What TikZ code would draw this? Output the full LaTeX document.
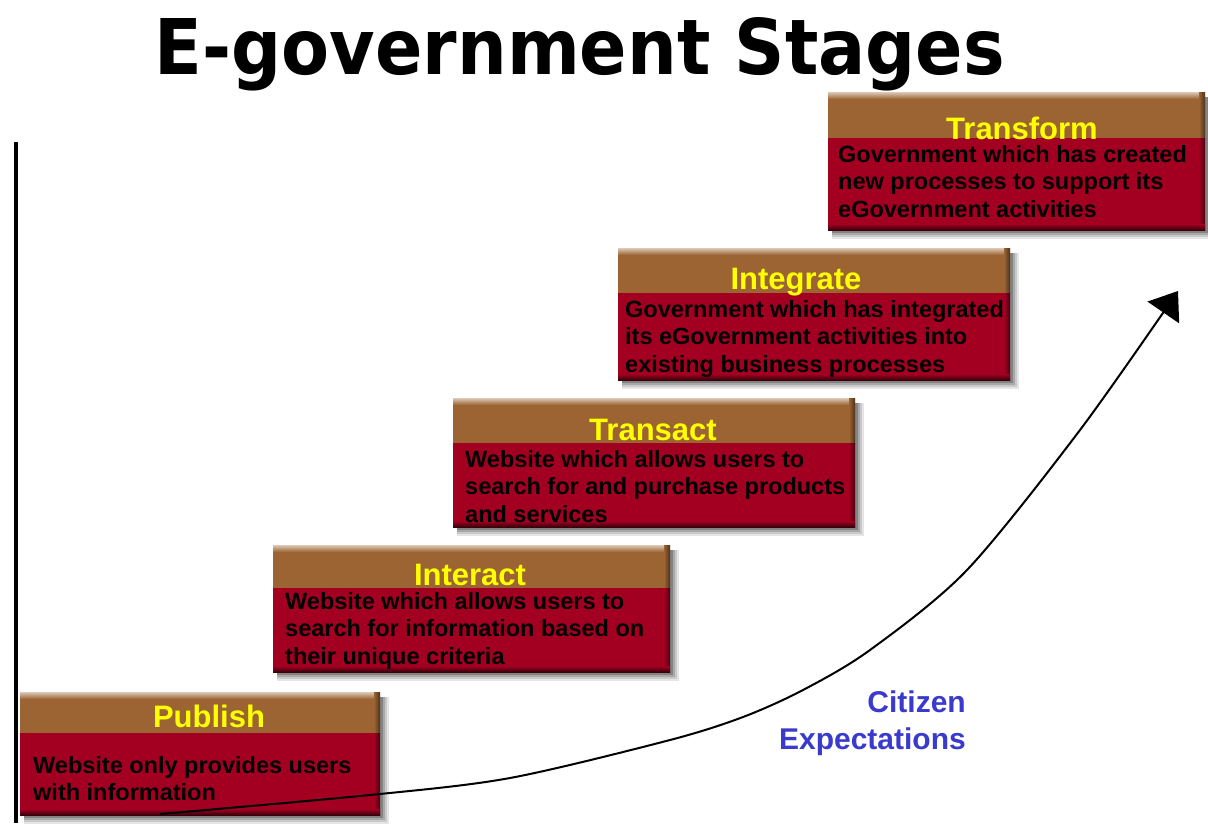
\documentclass[tikz,border=0pt]{standalone}
\usepackage{graphicx}
\usepackage{fontspec}
\setmainfont{Liberation Sans}
\newfontfamily\titlefont{DejaVu Sans}
\usetikzlibrary{arrows.meta}

\definecolor{headbrown}{RGB}{155,100,50}
\definecolor{bodyred}{RGB}{163,0,33}
\definecolor{headyellow}{RGB}{255,255,0}
\definecolor{citeblue}{RGB}{58,58,204}

\tikzset{
  stagebody/.style={fill=bodyred, inner sep=0pt, outer sep=0pt},
  headtxt/.style={font=\bfseries\fontsize{31}{31}\selectfont, text=headyellow,
    inner sep=0pt, anchor=base},
  bodytxt/.style={font=\bfseries\fontsize{23.5}{27.5}\selectfont, text=black,
    inner sep=0pt, align=left, anchor=north west},
  citetxt/.style={font=\bfseries\fontsize{30}{37}\selectfont, text=citeblue,
    inner sep=0pt, align=right, anchor=north east},
  rise/.style={line width=2pt, -{Triangle[length=26pt, width=38pt]}},
  axisline/.style={line width=4pt},
}

% #1 name, #2/#3 top-left corner, #4/#5 bottom-right corner, #6 header height
\newcommand\stagebox[6]{%
  % soft drop shadow
  \foreach \sk/\so in {9/0.10,7/0.12,5/0.16,3/0.22}{
    \fill[black, opacity=\so] ({#2+4},{#3+5}) rectangle ({#4+\sk},{#5+\sk});
  }
  \node[stagebody, minimum width={(#4-#2)*1pt}, minimum height={(#5-#3)*1pt}]
    (#1) at ({(#2+#4)/2},{(#3+#5)/2}) {};
  % brown title band
  \fill[headbrown] (#1.north west) rectangle ([yshift={-#6pt}]#1.north east);
  \shade[top color=headbrown!35!white, bottom color=headbrown]
    (#1.north west) rectangle ([yshift=-7pt]#1.north east);
  % darker bevel on the right and bottom edges
  \shade[left color=headbrown, right color=headbrown!50!black]
    ([xshift=-6pt]#1.north east) rectangle ([yshift={-#6pt}]#1.north east);
  \shade[left color=bodyred, right color=bodyred!45!black]
    ([xshift=-6pt, yshift={-#6pt}]#1.north east) rectangle (#1.south east);
  \shade[top color=bodyred, bottom color=bodyred!35!black]
    ([yshift=6pt]#1.south west) rectangle (#1.south east);
}

\begin{document}
\begin{tikzpicture}[x=1pt, y=-1pt]
  \fill[white] (0,0) rectangle (1208,823);
  \useasboundingbox (0,0) rectangle (1208,823);

  % title
  \node[anchor=base, inner sep=0pt] (title) at (580,74)
    {\resizebox{850pt}{57pt}{\titlefont\bfseries E-government Stages}};

  % vertical axis
  \coordinate (axtop) at (16,142);
  \coordinate (axbot) at (16,823);
  \draw[axisline] (axtop) -- (axbot);

  % the five stages
  \stagebox{publish}{20}{692}{380}{815}{41}
  \stagebox{interact}{273}{545}{670}{672}{43}
  \stagebox{transact}{453}{398}{855}{527}{45}
  \stagebox{integrate}{618}{248}{1010}{380}{45}
  \stagebox{transform}{828}{92}{1205}{230}{46}

  \node[headtxt] (publishh) at (209,727) {Publish};
  \node[headtxt] (interacth) at (470,585) {Interact};
  \node[headtxt] (transacth) at (653,440) {Transact};
  \node[headtxt] (integrateh) at (796,289) {Integrate};
  \node[headtxt] (transformh) at (1022,139) {Transform};

  \node[bodytxt] (publisht) at (33,756)
    {Website only provides users\\with information};
  \node[bodytxt] (interactt) at (285,592)
    {Website which allows users to\\search for information based on\\their unique criteria};
  \node[bodytxt] (transactt) at (465,450)
    {Website which allows users to\\search for and purchase products\\and services};
  \node[bodytxt] (integratet) at (625,300)
    {Government which has integrated\\its eGovernment activities into\\existing business processes};
  \node[bodytxt] (transformt) at (838,145)
    {Government which has created\\new processes to support its\\eGovernment activities};

  % rising expectations curve
  \coordinate (r0) at (160,814);
  \coordinate (r1) at (370,795);
  \coordinate (r2) at (510,778);
  \coordinate (r3) at (670,740);
  \coordinate (r4) at (743,717);
  \coordinate (r5) at (803,690);
  \coordinate (r6) at (870,650);
  \coordinate (r7) at (967,570);
  \coordinate (r8) at (1080,430);
  \coordinate (r9) at (1178,291);
  \draw[rise] plot[smooth, tension=0.5]
    coordinates {(r0) (r1) (r2) (r3) (r4) (r5) (r6) (r7) (r8) (r9)};

  \node[citetxt] (citizen) at (966,691) {Citizen\\Expectations};
\end{tikzpicture}
\end{document}
